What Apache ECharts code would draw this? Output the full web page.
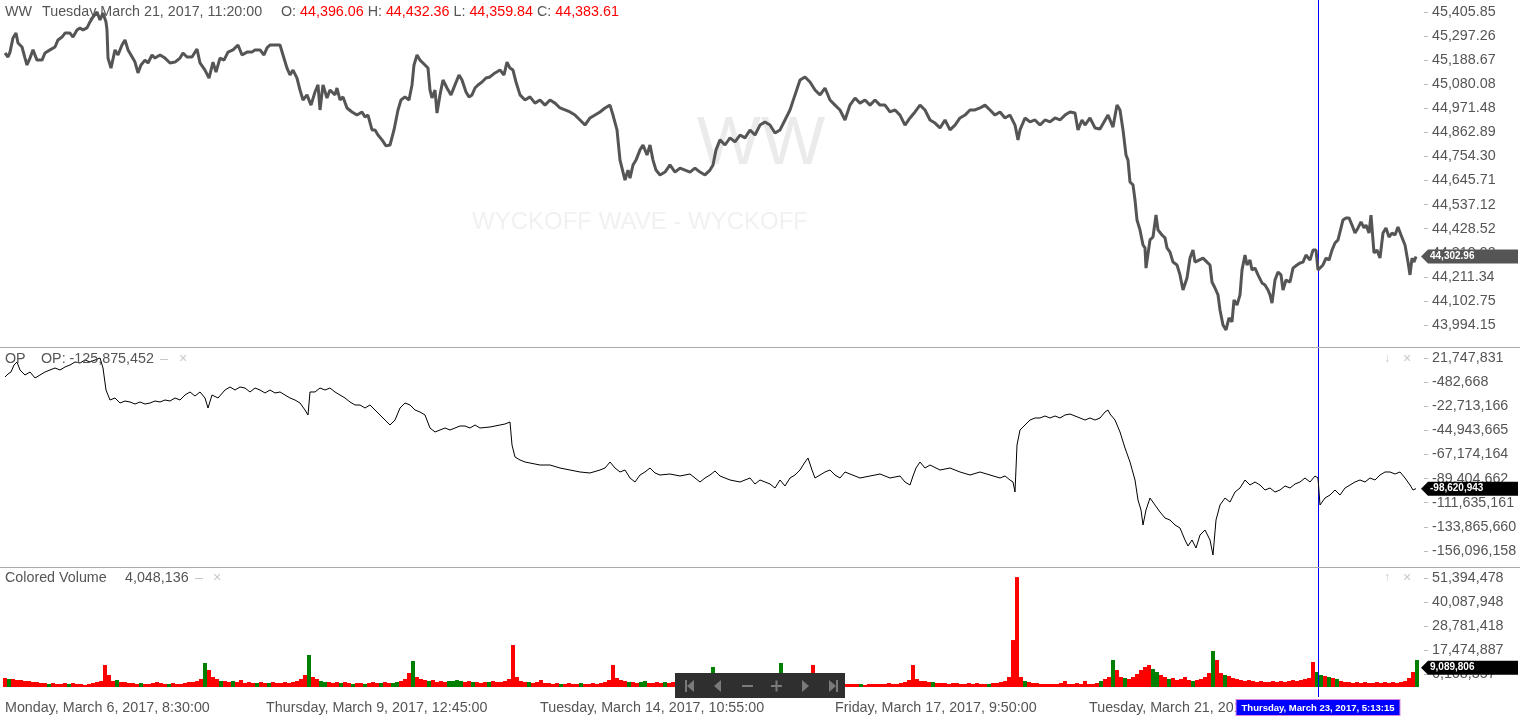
<!DOCTYPE html>
<html><head><meta charset="utf-8">
<script src="https://cdn.jsdelivr.net/npm/echarts@6/dist/echarts.min.js"></script>
<style>html,body{margin:0;padding:0;background:#fff}#c{width:1520px;height:719px}</style>
</head><body><div id="c"></div>
<script>
// ---------------- DATA ----------------
const priceTickLabels = ['45,405.85','45,297.26','45,188.67','45,080.08','44,971.48','44,862.89','44,754.30','44,645.71','44,537.12','44,428.52','44,319.93','44,211.34','44,102.75','43,994.15'];
const opTicks = [21747831,-482668,-22713166,-44943665,-67174164,-89404662,-111635161,-133865660,-156096158];
const volTicks = [51394478,40087948,28781418,17474887,6168357];
const xTickBars = [0,261,535,830,1084];
const xTickLabels = ['Monday, March 6, 2017, 8:30:00','Thursday, March 9, 2017, 12:45:00','Tuesday, March 14, 2017, 10:55:00','Friday, March 17, 2017, 9:50:00','Tuesday, March 21, 2017, 12:35:00'];

// price: [bar, close]
const price = [[0,45221],[3,45203],[5,45225],[8,45289],[11,45311],[13,45266],[17,45248],[20,45198],[22,45167],[25,45198],[28,45235],[32,45189],[37,45189],[40,45221],[45,45235],[50,45248],[53,45280],[57,45293],[60,45311],[65,45311],[68,45293],[72,45325],[75,45334],[78,45325],[82,45334],[85,45361],[88,45383],[92,45406],[95,45370],[98,45401],[101,45361],[102,45325],[103,45198],[106,45153],[110,45235],[113,45212],[117,45257],[120,45280],[123,45235],[126,45212],[130,45180],[133,45131],[136,45167],[140,45189],[143,45176],[147,45212],[150,45198],[155,45212],[160,45198],[165,45176],[170,45180],[175,45198],[178,45221],[182,45203],[187,45203],[192,45239],[195,45176],[200,45144],[204,45108],[208,45180],[211,45135],[215,45198],[219,45189],[223,45225],[228,45235],[233,45257],[237,45212],[242,45225],[247,45225],[250,45235],[255,45235],[259,45212],[262,45244],[265,45257],[270,45257],[275,45257],[278,45212],[282,45153],[285,45122],[288,45144],[292,45108],[295,45054],[298,45009],[302,45032],[306,44986],[310,45045],[313,45077],[315,44964],[318,45077],[322,45018],[325,45054],[330,45032],[332,45063],[335,45009],[338,45023],[342,44973],[347,44955],[352,44941],[357,44955],[360,44932],[363,44941],[367,44874],[370,44874],[373,44851],[377,44829],[381,44802],[385,44806],[389,44874],[393,44964],[396,45009],[400,45023],[404,45009],[407,45077],[409,45167],[412,45212],[415,45189],[417,45198],[420,45167],[423,45153],[425,45054],[427,45018],[430,45054],[432,44950],[435,45032],[438,45099],[442,45063],[446,45032],[450,45077],[454,45122],[457,45099],[461,45045],[464,45023],[467,45032],[470,45063],[473,45077],[477,45090],[481,45108],[485,45113],[490,45131],[495,45144],[499,45122],[502,45180],[505,45153],[508,45144],[511,45090],[515,45032],[520,45009],[525,45023],[530,44995],[535,45009],[540,44986],[545,45009],[550,44995],[555,44973],[560,44964],[565,44955],[570,44941],[575,44919],[580,44896],[585,44928],[590,44941],[595,44955],[600,44973],[605,44986],[608,44941],[612,44874],[615,44738],[620,44648],[623,44693],[625,44657],[628,44716],[631,44738],[635,44784],[638,44806],[642,44761],[645,44806],[648,44738],[651,44693],[655,44671],[660,44684],[665,44716],[670,44684],[675,44702],[680,44693],[685,44684],[690,44702],[695,44684],[700,44671],[705,44693],[708,44716],[711,44784],[715,44829],[720,44806],[725,44838],[730,44820],[735,44851],[740,44838],[745,44874],[750,44851],[755,44896],[760,44910],[765,44896],[770,44860],[775,44874],[780,44919],[785,44964],[790,45032],[795,45099],[800,45113],[805,45090],[810,45054],[815,45032],[820,45063],[825,45009],[830,44986],[835,44964],[840,44919],[845,44986],[850,45018],[855,44995],[860,45009],[865,44986],[870,45009],[875,44986],[880,44986],[885,44955],[890,44964],[895,44941],[900,44896],[905,44928],[910,44955],[915,44986],[920,44964],[925,44919],[930,44905],[935,44883],[940,44919],[945,44874],[950,44896],[955,44928],[960,44941],[965,44964],[970,44964],[975,44973],[980,44986],[985,44964],[990,44941],[995,44955],[1000,44928],[1005,44941],[1010,44896],[1013,44829],[1015,44874],[1020,44928],[1025,44910],[1030,44919],[1035,44896],[1040,44919],[1045,44910],[1050,44928],[1055,44919],[1060,44941],[1065,44955],[1070,44950],[1073,44874],[1077,44919],[1080,44896],[1085,44928],[1090,44883],[1095,44878],[1103,44941],[1108,44887],[1112,44986],[1115,44964],[1118,44874],[1121,44761],[1123,44738],[1125,44639],[1128,44626],[1130,44558],[1132,44468],[1135,44423],[1138,44355],[1140,44342],[1141,44251],[1145,44378],[1148,44391],[1151,44490],[1153,44423],[1157,44400],[1160,44387],[1162,44342],[1165,44323],[1168,44278],[1172,44265],[1175,44220],[1178,44152],[1182,44206],[1185,44296],[1188,44332],[1190,44278],[1194,44287],[1198,44296],[1202,44278],[1205,44265],[1207,44188],[1210,44161],[1213,44130],[1215,44062],[1218,43994],[1221,43972],[1224,44026],[1227,44008],[1229,44107],[1232,44084],[1235,44130],[1237,44242],[1240,44310],[1242,44265],[1245,44287],[1247,44242],[1250,44251],[1253,44220],[1257,44184],[1260,44175],[1263,44152],[1265,44130],[1267,44093],[1270,44197],[1273,44233],[1276,44220],[1278,44152],[1281,44197],[1285,44188],[1288,44251],[1292,44265],[1295,44274],[1298,44278],[1301,44310],[1305,44287],[1308,44332],[1311,44332],[1313,44242],[1315,44251],[1318,44265],[1321,44296],[1324,44287],[1327,44332],[1330,44364],[1333,44378],[1336,44432],[1338,44468],[1341,44477],[1344,44477],[1347,44445],[1350,44409],[1353,44432],[1356,44459],[1359,44432],[1361,44445],[1364,44409],[1366,44490],[1369,44319],[1372,44332],[1375,44296],[1378,44409],[1381,44432],[1384,44391],[1387,44409],[1390,44400],[1393,44436],[1396,44400],[1400,44355],[1403,44278],[1405,44220],[1407,44296],[1409,44278],[1411,44303]];

// OP in millions: [bar, value]
const opM = [[0,4.24],[3,7.01],[6,8.85],[9,15.30],[12,18.06],[15,10.69],[20,6.08],[25,8.85],[30,3.32],[35,6.08],[40,8.85],[45,10.69],[50,12.53],[55,10.69],[60,13.46],[65,15.30],[70,18.06],[75,17.14],[80,19.90],[85,18.06],[90,19.90],[95,21.75],[98,12.53],[101,-7.74],[103,-12.35],[105,-16.96],[110,-15.11],[115,-19.72],[120,-17.88],[125,-18.80],[130,-20.64],[135,-18.80],[140,-20.64],[145,-19.72],[150,-17.88],[155,-18.80],[160,-16.96],[165,-17.88],[170,-15.11],[175,-16.96],[180,-12.35],[185,-9.58],[190,-13.27],[195,-9.58],[200,-15.11],[203,-24.33],[207,-12.35],[213,-15.11],[220,-7.74],[225,-4.98],[230,-7.74],[235,-4.98],[240,-5.90],[245,-9.58],[250,-5.90],[255,-7.74],[260,-10.50],[265,-7.74],[270,-10.50],[275,-9.58],[280,-12.35],[285,-15.11],[290,-16.96],[295,-19.72],[300,-26.17],[303,-30.78],[305,-9.58],[310,-9.58],[315,-5.90],[320,-7.74],[325,-5.90],[330,-9.58],[335,-12.35],[340,-15.11],[345,-18.80],[350,-21.56],[355,-21.56],[360,-24.33],[365,-21.56],[370,-26.17],[375,-30.78],[380,-35.39],[385,-40.00],[390,-35.39],[395,-24.33],[400,-19.72],[405,-21.56],[410,-26.17],[415,-28.01],[420,-30.78],[425,-42.76],[430,-46.44],[435,-44.60],[440,-42.76],[445,-44.60],[450,-42.76],[455,-40.92],[460,-40.92],[465,-42.76],[470,-40.00],[475,-42.76],[485,-41.84],[495,-40.00],[500,-39.07],[505,-37.23],[507,-58.42],[510,-69.48],[515,-72.24],[520,-74.09],[525,-75.01],[535,-76.85],[545,-76.85],[555,-79.62],[565,-81.46],[575,-83.30],[585,-84.22],[595,-81.46],[600,-79.62],[605,-74.09],[610,-79.62],[615,-83.30],[620,-81.46],[625,-88.83],[630,-92.52],[635,-86.07],[640,-83.30],[645,-79.62],[650,-84.22],[655,-86.07],[665,-85.15],[675,-86.99],[685,-85.15],[690,-88.83],[695,-92.52],[700,-88.83],[705,-86.07],[710,-82.38],[715,-86.99],[720,-88.83],[725,-90.67],[735,-92.52],[745,-88.83],[750,-94.36],[755,-90.67],[765,-94.36],[770,-98.05],[775,-90.67],[780,-96.20],[785,-88.83],[790,-86.07],[795,-81.46],[800,-74.09],[803,-70.40],[807,-81.46],[810,-88.83],[815,-86.07],[820,-83.30],[825,-81.46],[830,-86.07],[835,-88.83],[840,-83.30],[845,-85.15],[855,-88.83],[865,-86.99],[875,-85.15],[885,-88.83],[895,-86.99],[900,-92.52],[905,-95.28],[908,-86.99],[911,-79.62],[915,-74.09],[920,-79.62],[925,-76.85],[935,-81.46],[945,-79.62],[955,-83.30],[965,-86.07],[975,-83.30],[985,-86.07],[995,-88.83],[1000,-86.99],[1005,-90.67],[1008,-92.52],[1010,-101.73],[1012,-58.42],[1015,-44.60],[1020,-40.00],[1025,-35.39],[1030,-33.54],[1035,-33.54],[1040,-31.70],[1045,-33.54],[1050,-31.70],[1055,-33.54],[1060,-30.78],[1065,-29.86],[1070,-31.70],[1075,-33.54],[1080,-35.39],[1085,-33.54],[1090,-35.39],[1095,-33.54],[1100,-28.01],[1103,-26.17],[1105,-29.86],[1110,-35.39],[1115,-46.44],[1120,-61.19],[1125,-74.09],[1130,-90.67],[1133,-109.11],[1136,-118.32],[1138,-132.15],[1141,-118.32],[1145,-107.26],[1150,-113.71],[1155,-120.16],[1160,-125.69],[1165,-127.54],[1170,-132.15],[1175,-134.91],[1180,-145.97],[1183,-151.50],[1187,-145.97],[1191,-153.34],[1195,-141.36],[1200,-136.75],[1205,-145.97],[1208,-159.79],[1211,-127.54],[1215,-113.71],[1220,-107.26],[1225,-110.95],[1230,-101.73],[1235,-98.05],[1240,-90.67],[1245,-95.28],[1250,-92.52],[1255,-95.28],[1260,-99.89],[1265,-98.05],[1270,-101.73],[1275,-99.89],[1280,-96.20],[1285,-98.05],[1290,-94.36],[1295,-92.52],[1300,-88.83],[1305,-92.52],[1310,-86.99],[1313,-88.83],[1315,-113.71],[1320,-107.26],[1325,-104.50],[1330,-99.89],[1335,-104.50],[1340,-98.05],[1345,-95.28],[1350,-92.52],[1355,-90.67],[1360,-92.52],[1365,-88.83],[1370,-90.67],[1375,-86.07],[1380,-83.30],[1385,-83.30],[1390,-85.15],[1395,-83.30],[1400,-88.83],[1405,-95.28],[1408,-99.89],[1411,-98.62]];

// Colored volume in millions, one value every 4 bars starting at bar 0
const volStep = 4;
const volumeM = [4.24,3.77,3.77,3.30,3.30,2.83,2.83,2.36,2.36,1.88,
1.88,1.41,1.88,1.41,1.41,1.88,1.41,1.88,1.41,1.41,
0.94,1.41,1.88,2.36,2.83,10.36,5.65,2.83,3.30,2.36,
2.36,1.88,1.88,1.41,1.88,1.41,1.41,1.88,2.36,1.88,
1.41,1.41,1.88,1.41,1.41,1.88,2.36,2.36,2.83,3.77,
11.31,8.01,4.71,3.77,2.83,2.83,2.36,2.83,2.36,3.30,
1.88,2.36,1.88,1.88,2.36,1.88,1.88,2.36,1.88,1.88,
2.36,1.88,2.36,2.83,3.77,5.65,15.08,4.71,3.77,2.83,
2.36,2.36,1.88,2.36,1.88,2.36,1.88,1.41,1.88,1.88,
1.41,1.88,2.36,1.88,1.88,2.36,1.88,1.88,2.36,2.83,
3.77,6.60,12.25,4.71,3.77,3.30,2.83,3.30,2.36,2.83,
2.36,2.83,2.83,3.30,2.83,2.36,2.83,2.36,2.36,1.88,
2.36,2.36,2.83,2.36,2.36,2.83,3.77,19.79,4.71,2.83,
2.36,2.36,1.88,2.36,3.30,1.88,1.88,1.41,1.88,1.41,
1.41,1.88,1.41,1.41,1.88,1.41,1.41,1.88,1.41,1.88,
2.36,3.30,10.36,4.24,3.30,2.83,2.36,2.36,1.88,2.36,
2.83,1.88,1.88,2.36,1.88,2.36,1.88,2.36,1.88,1.88,
1.88,2.36,1.88,2.36,1.88,2.36,2.83,9.42,3.77,2.83,
2.36,1.88,2.36,1.88,1.88,2.36,1.88,2.36,1.88,2.36,
1.88,2.36,2.83,3.77,11.31,4.71,2.83,2.36,2.36,2.83,
2.36,3.77,10.36,3.77,2.83,2.36,2.36,1.88,1.88,1.88,
1.41,1.41,1.41,1.41,1.41,0.94,1.41,1.41,1.41,1.41,
1.41,1.88,1.41,1.41,1.88,2.36,3.30,10.36,3.77,2.83,
2.83,2.36,2.36,1.88,1.88,1.88,1.41,1.88,1.88,1.41,
1.41,1.88,1.41,1.88,1.41,1.41,1.41,1.88,1.88,2.36,
2.83,4.71,22.14,51.82,4.71,2.83,2.36,1.88,1.88,1.41,
1.41,1.41,1.41,1.41,1.88,2.83,1.41,1.41,1.88,1.41,
2.83,1.41,1.41,1.88,2.83,3.77,4.71,12.72,8.01,4.71,
4.24,3.77,4.71,6.12,8.01,9.42,10.36,8.48,7.07,5.65,
4.71,3.77,4.24,3.30,3.77,4.71,3.30,2.83,3.30,3.77,
4.71,6.60,16.96,12.72,6.60,5.65,5.18,4.24,3.77,3.30,
2.83,3.30,2.83,2.36,2.83,2.36,2.36,2.83,2.36,2.83,
2.36,2.83,3.30,2.83,3.30,3.77,4.24,11.78,7.07,5.65,
5.18,4.71,4.24,3.77,2.83,2.36,2.36,1.88,2.36,1.88,
2.36,1.88,1.88,2.36,1.88,2.36,1.88,2.36,1.88,2.36,
2.83,4.24,7.07,12.72];
// r = down (red), g = up (green)
const volDir = 'rgrrrrrrrr'+'rgrrrrgrrr'+'rrrrrrrrgr'+'rrrrgrrrrr'+'rgrrrrrrrr'+'grrrgrrgrr'+'rrrgrrgrrr'+'rrrrrrgrrg'+'grrrgrrgrr'+'grrrgrrggr'+
'rrgrrrgrrr'+'rggggrrgrr'+'rgrrrrrrrr'+'rgrrrrrrrg'+'rrrrgrrrrr'+'rrrrrrgrrg'+'grrrrgrrrr'+'rrrrrrrgrr'+'rrrrrrrrrr'+'rrrrgrrrrr'+
'rrrrrrrrrr'+'rrrrgrrrrr'+'rrrrrrrrrr'+'rrgrrrrrrr'+'rrrrrrgrrr'+'rrrrrgrrrr'+'rrrrrrrrrr'+'rrrrgrrgrr'+'grrrrrrggr'+'rgrrrrrgrr'+
'rrgrrgrrrr'+'rrrrrrrrrr'+'rrrrrrrrgg'+'rgrgrrrrrr'+'rrrrrrrrrr'+'rrrg';

const totalBars = 1413;
const crossBar = 1313;
const crossLabel = 'Thursday, March 23, 2017, 5:13:15';
const lastPrice = 44302.96, lastOP = -98620943, lastVol = 9089806;
const headerDate = 'Tuesday March 21, 2017, 11:20:00';
const ohlc = {O:'44,396.06', H:'44,432.36', L:'44,359.84', C:'44,383.61'};
const opHeader = 'OP: -125,875,452';
const volHeader = '4,048,136';

// ---------------- CHART ----------------
const FONT = 'Liberation Sans, Arial, sans-serif';
const FS = 14.3;
const fmtNum = (v, d) => v.toLocaleString('en-US', {minimumFractionDigits:d, maximumFractionDigits:d});
const priceTicks = priceTickLabels.map(s => Number(s.replace(/,/g,'')));
const chart = echarts.init(document.getElementById('c'), null, {renderer:'canvas'});

const GL = 5, GW = 1413;
const grids = [
  {left:GL, width:GW, top:0, height:347},
  {left:GL, width:GW, top:347, height:220},
  {left:GL, width:GW, top:567, height:120},
  {left:GL, width:GW, top:0, height:697}
];
function xAx(i, show) {
  const a = {type:'value', gridIndex:i, min:0, max:totalBars, show:!!show,
    axisLine:{show:false, onZero:false}, axisTick:{show:false}, splitLine:{show:false}};
  if (show) a.axisLabel = {customValues:xTickBars, align:'left', margin:14, color:'#555', fontSize:FS, fontFamily:FONT,
      hideOverlap:false, formatter:v => xTickLabels[xTickBars.indexOf(v)] || ''};
  return a;
}
function yAx(i, min, max, ticks, fmt) {
  return {type:'value', gridIndex:i, position:'right', min, max, offset:6,
    axisLine:{show:false, onZero:false}, splitLine:{show:false},
    axisTick:{show:true, length:4, customValues:ticks, lineStyle:{color:'#bbb'}},
    axisLabel:{customValues:ticks, formatter:fmt, color:'#555', fontSize:FS, margin:8, fontFamily:FONT, hideOverlap:false}};
}

const option = {
  animation:false,
  backgroundColor:'#fff',
  grid:grids,
  xAxis:[xAx(0), xAx(1), xAx(2,true), xAx(3)],
  yAxis:[
    yAx(0, 43895, 45460, priceTicks, v => priceTickLabels[priceTicks.indexOf(v)] || fmtNum(v,2)),
    yAx(1, -170840000, 31884000, opTicks, v => fmtNum(v,0)),
    yAx(2, 0, 56576600, volTicks, v => fmtNum(v,0)),
    {type:'value', gridIndex:3, min:0, max:1, show:false}
  ],
  series:[
    {type:'line', xAxisIndex:0, yAxisIndex:0, data:price, showSymbol:false, symbol:'none',
      lineStyle:{color:'#555', width:3}, z:5},
    {type:'line', xAxisIndex:1, yAxisIndex:1, data:opM.map(p => [p[0], p[1]*1e6]), showSymbol:false, symbol:'none',
      lineStyle:{color:'#000', width:1}, z:5},
    {type:'bar', xAxisIndex:2, yAxisIndex:2, barWidth:4,
      data:volumeM.map((v,i) => ({value:[i*volStep, v*1e6], itemStyle:{color: volDir[i]==='g' ? '#008000' : '#ff0000'}})), z:4},
    {type:'line', xAxisIndex:3, yAxisIndex:3, data:[[crossBar,0]], showSymbol:false, symbol:'none', lineStyle:{opacity:0}, z:30,
      markLine:{silent:true, symbol:['none','none'], animation:false,
        lineStyle:{color:'#0000ff', width:1, type:'solid'},
        label:{show:true, position:'start', distance:3, formatter:crossLabel, color:'#fff', fontWeight:'bold', fontSize:9.5,
          fontFamily:FONT, backgroundColor:'#0000ff', borderColor:'#e080e0', borderWidth:1, padding:[3,5,2,5]},
        data:[{xAxis:crossBar}]}}
  ]
};
chart.setOption(option);

// ---------- overlay graphics ----------
function tag(y, txt, color) {
  const x0 = 1421, h = 7;
  return [
    {type:'polygon', z:100, shape:{points:[[x0,y],[x0+7,y-h],[1518,y-h],[1518,y+h],[x0+7,y+h]]}, style:{fill:color}},
    {type:'text', z:101, x:x0+9, y:y, style:{text:txt, fill:'#fff', font:'bold 10px '+FONT, verticalAlign:'middle'}}
  ];
}
const yP = chart.convertToPixel({yAxisIndex:0}, lastPrice);
const yO = chart.convertToPixel({yAxisIndex:1}, lastOP);
const yV = chart.convertToPixel({yAxisIndex:2}, lastVol);
const gray = '#555', light = '#c8c8c8';
const F = FS + 'px ' + FONT;
const txt = (x, y, s, fill, font) => ({type:'text', z:100, x, y, style:{text:s, fill, font: font || F, verticalAlign:'middle'}});
const navIcon = '#7a7a7a';
const graphics = [
  // watermark
  {type:'text', z:0, x:761, y:145, style:{text:'WW', fill:'#ebebeb', font:'68px '+FONT, align:'center', verticalAlign:'middle'}},
  {type:'text', z:0, x:640, y:222, style:{text:'WYCKOFF WAVE - WYCKOFF', fill:'#f1f1f1', font:'24px '+FONT, align:'center', verticalAlign:'middle'}},
  // separators
  {type:'line', z:50, shape:{x1:0, y1:347.5, x2:1520, y2:347.5}, style:{stroke:'#aaa', lineWidth:1}},
  {type:'line', z:50, shape:{x1:0, y1:567.5, x2:1520, y2:567.5}, style:{stroke:'#aaa', lineWidth:1}},
  // headers
  txt(5, 12, 'WW', gray),
  txt(42, 12, headerDate, gray),
  {type:'text', z:100, x:281, y:12, style:{verticalAlign:'middle', font:F,
    text:'{k|O:} {v|'+ohlc.O+'} {k|H:} {v|'+ohlc.H+'} {k|L:} {v|'+ohlc.L+'} {k|C:} {v|'+ohlc.C+'}',
    rich:{k:{fill:gray, font:F}, v:{fill:'#ff0000', font:F}}}},
  txt(5, 359, 'OP', gray),
  txt(41, 359, opHeader, gray),
  txt(160, 359, '–', light),
  txt(179, 359, '×', light),
  txt(1384, 359, '↓', light, '12px '+FONT),
  txt(1403, 359, '×', light),
  txt(5, 578, 'Colored Volume', gray),
  txt(125, 578, volHeader, gray),
  txt(195, 578, '–', light),
  txt(213, 578, '×', light),
  txt(1384, 578, '↑', light, '12px '+FONT),
  txt(1403, 578, '×', light),
  // navigation toolbar
  {type:'rect', z:90, shape:{x:675, y:673, width:170, height:25}, style:{fill:'#2f2f2f'}},
  {type:'rect', z:91, shape:{x:685, y:680, width:2, height:12}, style:{fill:navIcon}},
  {type:'polygon', z:91, shape:{points:[[687,686],[694,680],[694,692]]}, style:{fill:navIcon}},
  {type:'polygon', z:91, shape:{points:[[714,686],[721,680],[721,692]]}, style:{fill:navIcon}},
  {type:'rect', z:91, shape:{x:742, y:685, width:11, height:2}, style:{fill:navIcon}},
  {type:'rect', z:91, shape:{x:771, y:685, width:11, height:2}, style:{fill:navIcon}},
  {type:'rect', z:91, shape:{x:775.5, y:680.5, width:2, height:11}, style:{fill:navIcon}},
  {type:'polygon', z:91, shape:{points:[[809,686],[802,680],[802,692]]}, style:{fill:navIcon}},
  {type:'polygon', z:91, shape:{points:[[836,686],[829,680],[829,692]]}, style:{fill:navIcon}},
  {type:'rect', z:91, shape:{x:836, y:680, width:2, height:12}, style:{fill:navIcon}}
].concat(tag(yP, fmtNum(lastPrice,2), '#555'), tag(yO, fmtNum(lastOP,0), '#000'), tag(yV, fmtNum(lastVol,0), '#000'));
chart.setOption({graphic:graphics});
</script>
</body></html>
